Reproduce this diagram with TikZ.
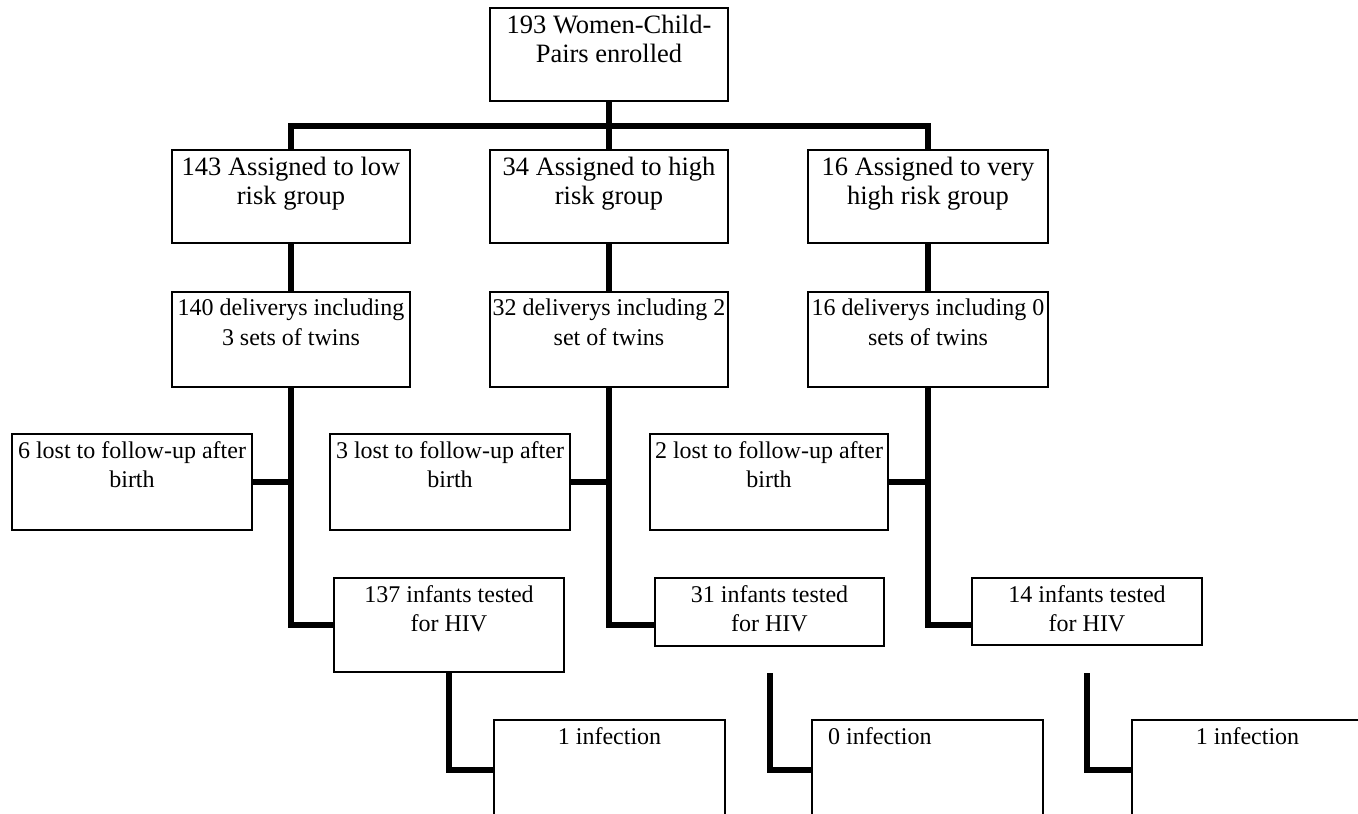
\documentclass[tikz,border=0pt]{standalone}
\usepackage{fontspec}
\setmainfont{Liberation Serif}
\newcommand\flowbox[6]{%
  \node[box, minimum width=#4pt, minimum height=#5pt] (#1) at (#2,#3) {};}
\begin{document}
\begin{tikzpicture}[x=1pt,y=-1pt,
  box/.style={draw, line width=1.4pt, anchor=north west, inner sep=0pt, outer sep=0pt},
  txt/.style={anchor=north, align=center, inner sep=0pt, font=\fontsize{24}{29.5}\selectfont},
  bigtxt/.style={txt, font=\fontsize{26.5}{29}\selectfont},
  conn/.style={line width=6pt}]
\fill[white] (0,0) rectangle (1358,814);
\useasboundingbox (0,0) rectangle (1358,814);
\clip (0,0) rectangle (1358,814);

% boxes
\flowbox{top}{490}{8}{238}{93}{}
\flowbox{a1}{172}{150}{238}{93}{}
\flowbox{a2}{490}{150}{238}{93}{}
\flowbox{a3}{808}{150}{240}{93}{}
\flowbox{d1}{172}{292}{238}{95}{}
\flowbox{d2}{490}{292}{238}{95}{}
\flowbox{d3}{808}{292}{240}{95}{}
\flowbox{l1}{12}{434}{240}{96}{}
\flowbox{l2}{330}{434}{240}{96}{}
\flowbox{l3}{650}{434}{238}{96}{}
\flowbox{t1}{334}{578}{230}{94}{}
\flowbox{t2}{655}{578}{229}{68}{}
\flowbox{t3}{972}{578}{230}{67}{}
\flowbox{i1}{494}{720}{231}{100}{}
\flowbox{i2}{812}{720}{231}{100}{}
\flowbox{i3}{1132}{720}{231}{100}{}

% texts
\node[bigtxt] (topt) at ([yshift=-7pt]top.north) {193 Women-Child-\\Pairs enrolled};
\node[bigtxt] (a1t) at ([yshift=-7pt]a1.north) {143 Assigned to low\\risk group};
\node[bigtxt] (a2t) at ([yshift=-7pt]a2.north) {34 Assigned to high\\risk group};
\node[bigtxt] (a3t) at ([yshift=-7pt]a3.north) {16 Assigned to very\\high risk group};
\node[txt] (d1t) at ([yshift=-7pt]d1.north) {140 deliverys including\\3 sets of twins};
\node[txt] (d2t) at ([yshift=-7pt]d2.north) {32 deliverys including 2\\set of twins};
\node[txt] (d3t) at ([yshift=-7pt]d3.north) {16 deliverys including 0\\sets of twins};
\node[txt] (l1t) at ([yshift=-7pt]l1.north) {6 lost to follow-up after\\birth};
\node[txt] (l2t) at ([yshift=-7pt]l2.north) {3 lost to follow-up after\\birth};
\node[txt] (l3t) at ([yshift=-7pt]l3.north) {2 lost to follow-up after\\birth};
\node[txt] (t1t) at ([yshift=-7pt]t1.north) {137 infants tested\\for HIV};
\node[txt] (t2t) at ([yshift=-7pt]t2.north) {31 infants tested\\for HIV};
\node[txt] (t3t) at ([yshift=-7pt]t3.north) {14 infants tested\\for HIV};
\node[txt] (i1t) at ([yshift=-7pt]i1.north) {1 infection};
\node[txt, anchor=north west] (i2t) at ([xshift=16pt,yshift=-7pt]i2.north west) {0 infection};
\node[txt] (i3t) at ([yshift=-7pt]i3.north) {1 infection};

% junctions
\coordinate (j0) at ([yshift=-25pt]top.south);
\coordinate (k1) at (t1.west);
\coordinate (k2) at (t2.west |- t1.west);
\coordinate (k3) at (t3.west |- t1.west);
\coordinate (s2) at ([yshift=-27pt]t2.south);
\coordinate (s3) at ([yshift=-28pt]t3.south);

% connectors
\draw[conn] (top.south) -- (j0);
\draw[conn] (a1.north) |- (j0) -| (a3.north);
\draw[conn] (j0) -- (a2.north);
\draw[conn] (a1.south) -- (d1.north);
\draw[conn] (a2.south) -- (d2.north);
\draw[conn] (a3.south) -- (d3.north);
\draw[conn] (d1.south) |- (k1);
\draw[conn] (d2.south) |- (k2);
\draw[conn] (d3.south) |- (k3);
\draw[conn] (l1.east) -- (l1.east -| d1.south);
\draw[conn] (l2.east) -- (l2.east -| d2.south);
\draw[conn] (l3.east) -- (l3.east -| d3.south);
\draw[conn] (t1.south) |- (i1.west);
\draw[conn] (s2) |- (i2.west);
\draw[conn] (s3) |- (i3.west);
\end{tikzpicture}
\end{document}
